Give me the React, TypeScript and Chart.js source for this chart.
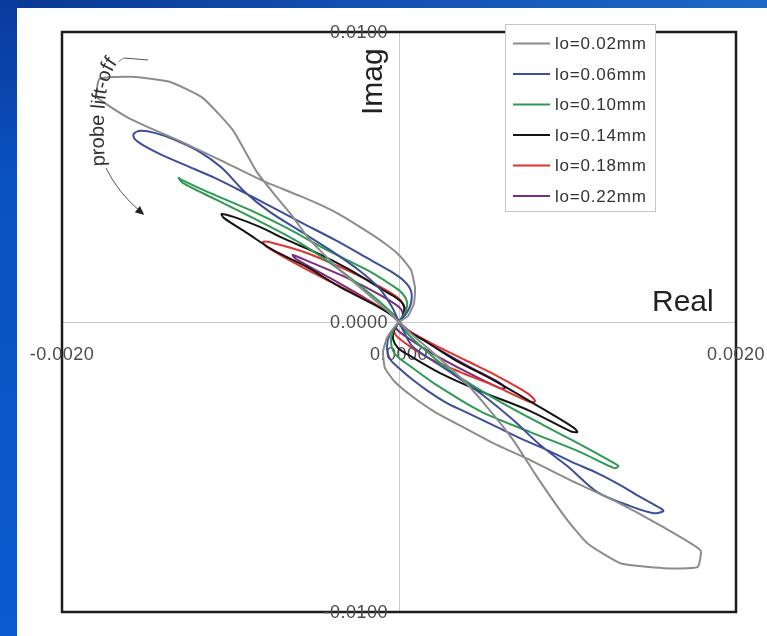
import React, { useEffect, useRef } from "react";
import { Chart, registerables } from "chart.js";

Chart.register(...registerables);

// ---------- data ----------
const seriesLabels = ["lo=0.02mm", "lo=0.06mm", "lo=0.10mm", "lo=0.14mm", "lo=0.18mm", "lo=0.22mm"];
const seriesColors = ["#8c8c8c", "#3d4f98", "#2e9a52", "#141414", "#e2322e", "#7a2d80"];

const lo002X = [0, 0.0000535, 0.0000892, 0.0000951, 0.0000713, 0.0000059, -0.0000713, -0.000232, -0.000392, -0.000588, -0.000808, -0.001064, -0.001302, -0.00148, -0.001617, -0.00173, -0.001795, -0.001777, -0.001587, -0.001361, -0.001165, -0.000987, -0.000844, -0.000737, -0.000648, -0.000529, -0.000351, -0.000172, -0.0000535, 0, 0.0000535, 0.000184, 0.00038, 0.000523, 0.000678, 0.00082, 0.000999, 0.001117, 0.001314, 0.001569, 0.001771, 0.001789, 0.001569, 0.001272, 0.001016, 0.000779, 0.000571, 0.00038, 0.000214, 0.0000832, -0.0000238, -0.0000832, -0.0000951, -0.0000713, -0.0000357, 0];
const lo002Y = [0, 0.000207, 0.000656, 0.001173, 0.001795, 0.002278, 0.002657, 0.003278, 0.003831, 0.004348, 0.004866, 0.005591, 0.006246, 0.006695, 0.007075, 0.007489, 0.007765, 0.008386, 0.008455, 0.008282, 0.00773, 0.006626, 0.005177, 0.004383, 0.003762, 0.00283, 0.001795, 0.000897, 0.000311, 0, -0.000311, -0.000966, -0.002002, -0.002933, -0.004072, -0.005349, -0.006833, -0.007627, -0.008317, -0.008489, -0.008455, -0.007868, -0.007075, -0.006143, -0.005453, -0.004762, -0.00421, -0.003624, -0.003106, -0.002588, -0.002071, -0.001587, -0.001035, -0.000552, -0.000242, 0];

const lo006X = [0, 0.0000416, 0.0000713, 0.0000713, 0.0000297, -0.0000535, -0.00019, -0.00038, -0.000588, -0.000767, -0.000915, -0.001094, -0.001272, -0.001421, -0.001522, -0.001569, -0.001575, -0.001534, -0.00145, -0.001331, -0.001183, -0.001052, -0.000915, -0.000767, -0.000588, -0.00041, -0.000232, -0.000113, -0.0000416, 0, 0.0000357, 0.0000832, 0.000285, 0.000481, 0.000678, 0.000838, 0.000999, 0.001177, 0.001373, 0.00151, 0.001569, 0.001551, 0.001433, 0.001302, 0.001177, 0.001028, 0.00088, 0.000731, 0.000583, 0.000422, 0.000285, 0.000172, 0.0000832, 0.0000059, -0.0000535, -0.0000713, -0.0000535, 0];
const lo006Y = [0, 0.000276, 0.000656, 0.00107, 0.001415, 0.00176, 0.002209, 0.00283, 0.003451, 0.004003, 0.004452, 0.004969, 0.005418, 0.005798, 0.006108, 0.006315, 0.006488, 0.006591, 0.006522, 0.006281, 0.005867, 0.005315, 0.004486, 0.003796, 0.00314, 0.002485, 0.00176, 0.001139, 0.000518, 0, -0.000414, -0.000863, -0.001656, -0.00245, -0.003382, -0.004245, -0.004969, -0.005867, -0.00635, -0.006591, -0.006522, -0.006419, -0.006039, -0.005591, -0.005211, -0.004831, -0.004417, -0.004038, -0.003624, -0.003175, -0.002795, -0.002381, -0.002002, -0.001622, -0.001277, -0.000863, -0.000414, 0];

const lo010X = [0, 0.0000357, 0.0000476, 0.0000119, -0.0000535, -0.00019, -0.000428, -0.000666, -0.000886, -0.001123, -0.00129, -0.001308, -0.001284, -0.001082, -0.000844, -0.000588, -0.000351, -0.000155, -0.0000357, 0, 0.0000357, 0.000155, 0.000315, 0.000583, 0.000856, 0.001094, 0.001266, 0.001302, 0.001278, 0.001076, 0.000779, 0.000481, 0.000214, 0.0000654, -0.0000238, -0.0000476, -0.0000357, 0];
const lo010Y = [0, 0.000311, 0.00069, 0.001035, 0.001311, 0.001795, 0.002485, 0.003244, 0.003865, 0.004452, 0.0049, 0.004969, 0.004797, 0.00421, 0.00352, 0.002726, 0.001795, 0.000897, 0.000276, 0, -0.000311, -0.000966, -0.001726, -0.002692, -0.003555, -0.004279, -0.004831, -0.004969, -0.005038, -0.004486, -0.003796, -0.003071, -0.00214, -0.001518, -0.001104, -0.00069, -0.000311, 0];

const lo014X = [0, 0.0000297, 0.0000238, -0.0000238, -0.0000951, -0.000291, -0.000487, -0.000666, -0.000826, -0.000981, -0.001052, -0.00104, -0.000903, -0.000749, -0.000547, -0.000351, -0.000155, -0.0000357, 0, 0.0000357, 0.000155, 0.000333, 0.000571, 0.000886, 0.00104, 0.001058, 0.001016, 0.000779, 0.000481, 0.000244, 0.0000773, -0.0000059, -0.0000357, -0.0000297, 0];
const lo014Y = [0, 0.000311, 0.000621, 0.000863, 0.001104, 0.001795, 0.002381, 0.00283, 0.003278, 0.003624, 0.003727, 0.003589, 0.003071, 0.002485, 0.001898, 0.001208, 0.000621, 0.000207, 0, -0.000242, -0.000656, -0.001311, -0.002036, -0.003106, -0.003658, -0.003796, -0.003762, -0.003071, -0.002381, -0.00176, -0.001208, -0.000897, -0.000587, -0.000311, 0];

const lo018X = [0, 0.0000297, 0.0000357, -0.0000119, -0.000155, -0.000351, -0.000547, -0.000749, -0.000808, -0.000785, -0.000588, -0.000392, -0.00019, -0.0000476, 0, 0.0000416, 0.00019, 0.000392, 0.000594, 0.000761, 0.000808, 0.000779, 0.000571, 0.000363, 0.000155, 0.0000119, -0.0000297, 0];
const lo018Y = [0, 0.000242, 0.000483, 0.000863, 0.001346, 0.001898, 0.002381, 0.002726, 0.002761, 0.002588, 0.001933, 0.001346, 0.000759, 0.000276, 0, -0.000242, -0.000725, -0.001311, -0.001898, -0.00245, -0.002726, -0.002761, -0.002209, -0.001726, -0.001173, -0.000621, -0.000311, 0];

const lo022X = [0, 0.0000238, 0.0000059, -0.000113, -0.000321, -0.000529, -0.00063, -0.000612, -0.00041, -0.000202, -0.0000535, 0, 0.0000535, 0.000202, 0.00041, 0.0006, 0.00063, 0.0006, 0.000392, 0.000184, 0.0000357, -0.0000178, 0];
const lo022Y = [0, 0.000207, 0.000483, 0.000932, 0.001553, 0.002071, 0.002312, 0.002174, 0.001518, 0.000828, 0.000276, 0, -0.000276, -0.000828, -0.001518, -0.002105, -0.002278, -0.002278, -0.001691, -0.001035, -0.000483, -0.000207, 0];

const xTickValues = [-0.002, 0, 0.002];
const xTickLabels = ["-0.0020", "0.0000", "0.0020"];
const yTickValues = [-0.01, 0, 0.01];
const yTickLabels = ["-0.0100", "0.0000", "0.0100"];
const xAxisTitle = "Real";
const yAxisTitle = "Imag";
const annotationText = "probe lift-off";

const seriesX = [lo002X, lo006X, lo010X, lo014X, lo018X, lo022X];
const seriesY = [lo002Y, lo006Y, lo010Y, lo014Y, lo018Y, lo022Y];

const FONT = '"Liberation Sans", Arial, Helvetica, sans-serif';

type P = [number, number];

function drawTextOnQuad(ctx: CanvasRenderingContext2D, text: string, p0: P, p1: P, p2: P, tail: P) {
  const N = 300;
  const pts: P[] = [];
  const lens: number[] = [0];
  for (let i = 0; i <= N; i++) {
    const t = i / N;
    const u = 1 - t;
    pts.push([
      u * u * p0[0] + 2 * u * t * p1[0] + t * t * p2[0],
      u * u * p0[1] + 2 * u * t * p1[1] + t * t * p2[1],
    ]);
    if (i > 0) lens.push(lens[i - 1] + Math.hypot(pts[i][0] - pts[i - 1][0], pts[i][1] - pts[i - 1][1]));
  }
  const at = (s: number) => {
    let i = 1;
    while (i < N && lens[i] < s) i++;
    const a = pts[i - 1];
    const b = pts[i];
    const seg = lens[i] - lens[i - 1] || 1;
    const f = Math.min(1, Math.max(0, (s - lens[i - 1]) / seg));
    return { x: a[0] + (b[0] - a[0]) * f, y: a[1] + (b[1] - a[1]) * f, ang: Math.atan2(b[1] - a[1], b[0] - a[0]), idx: i };
  };
  let s = 0;
  for (const ch of text) {
    const w = ctx.measureText(ch).width;
    const m = at(s + w / 2);
    ctx.save();
    ctx.translate(m.x, m.y);
    ctx.rotate(m.ang);
    ctx.textAlign = "center";
    ctx.textBaseline = "alphabetic";
    ctx.fillText(ch, 0, 0);
    ctx.restore();
    s += w;
  }
  const e = at(s + 1);
  ctx.beginPath();
  ctx.moveTo(e.x, e.y);
  for (let i = e.idx; i <= N; i++) ctx.lineTo(pts[i][0], pts[i][1]);
  ctx.lineTo(tail[0], tail[1]);
  ctx.stroke();
}

const decorPlugin = {
  id: "decor",
  beforeDatasetsDraw(chart: any) {
    const { ctx, chartArea: a, scales } = chart;
    const xs = scales.x;
    const ys = scales.y;
    ctx.save();
    ctx.strokeStyle = "#1c1c1c";
    ctx.lineWidth = 2.5;
    ctx.strokeRect(a.left, a.top, a.right - a.left, a.bottom - a.top);

    ctx.fillStyle = "#4a4a4a";
    ctx.font = `18px ${FONT}`;
    (ctx as any).letterSpacing = "0.5px";
    ctx.textAlign = "center";
    ctx.textBaseline = "middle";
    const y0 = ys.getPixelForValue(0);
    const x0 = xs.getPixelForValue(0);
    xTickValues.forEach((v, i) => ctx.fillText(xTickLabels[i], xs.getPixelForValue(v), y0 + 33));
    ctx.textAlign = "right";
    yTickValues.forEach((v, i) => ctx.fillText(yTickLabels[i], x0 - 11, ys.getPixelForValue(v) + 1));
    (ctx as any).letterSpacing = "0px";
    ctx.restore();
  },
  afterDatasetsDraw(chart: any) {
    const { ctx, chartArea: a, scales } = chart;
    const xs = scales.x;
    const ys = scales.y;
    const x0 = xs.getPixelForValue(0);
    const y0 = ys.getPixelForValue(0);
    ctx.save();

    // legend
    const lx = 505.5, ly = 24.5, lw = 150, lh = 187;
    ctx.fillStyle = "#ffffff";
    ctx.fillRect(lx, ly, lw, lh);
    ctx.strokeStyle = "#c6c6c6";
    ctx.lineWidth = 1;
    ctx.strokeRect(lx, ly, lw, lh);
    chart.data.datasets.forEach((ds: any, i: number) => {
      const cy = 43.5 + i * 30.5;
      ctx.strokeStyle = ds.borderColor;
      ctx.lineWidth = 2;
      ctx.beginPath();
      ctx.moveTo(513, cy);
      ctx.lineTo(550, cy);
      ctx.stroke();
      ctx.fillStyle = "#333333";
      ctx.font = `17px ${FONT}`;
      ctx.textAlign = "left";
      ctx.textBaseline = "middle";
      (ctx as any).letterSpacing = "0.8px";
      ctx.fillText(ds.label, 555, cy + 1);
      (ctx as any).letterSpacing = "0px";
    });

    // axis titles
    ctx.fillStyle = "#222222";
    ctx.font = `30px ${FONT}`;
    ctx.textAlign = "left";
    ctx.textBaseline = "alphabetic";
    ctx.fillText(xAxisTitle, a.right - 84, y0 - 11);
    ctx.save();
    ctx.translate(x0 - 17, a.top + 83);
    ctx.rotate(-Math.PI / 2);
    ctx.fillText(yAxisTitle, 0, 0);
    ctx.restore();

    // probe lift-off annotation
    ctx.fillStyle = "#333333";
    ctx.strokeStyle = "#555555";
    ctx.lineWidth = 1;
    ctx.font = `20px ${FONT}`;
    drawTextOnQuad(ctx, annotationText, [105, 166], [99, 70], [124, 58], [148, 60]);

    // arrow
    const s0: P = [106, 168], c0: P = [118, 193], e0: P = [142, 213];
    ctx.beginPath();
    ctx.moveTo(s0[0], s0[1]);
    ctx.quadraticCurveTo(c0[0], c0[1], e0[0], e0[1]);
    ctx.stroke();
    const ang = Math.atan2(e0[1] - c0[1], e0[0] - c0[0]);
    const tip: P = [e0[0] + 3 * Math.cos(ang), e0[1] + 3 * Math.sin(ang)];
    ctx.fillStyle = "#222222";
    ctx.beginPath();
    ctx.moveTo(tip[0], tip[1]);
    ctx.lineTo(tip[0] - 9 * Math.cos(ang) + 4 * Math.sin(ang), tip[1] - 9 * Math.sin(ang) - 4 * Math.cos(ang));
    ctx.lineTo(tip[0] - 9 * Math.cos(ang) - 4 * Math.sin(ang), tip[1] - 9 * Math.sin(ang) + 4 * Math.cos(ang));
    ctx.closePath();
    ctx.fill();

    ctx.restore();
  },
};

export default function App() {
  const canvasRef = useRef<HTMLCanvasElement | null>(null);

  useEffect(() => {
    if (!canvasRef.current) return;
    const datasets = seriesLabels.map((label, i) => ({
      label,
      data: seriesX[i].map((x, j) => ({ x, y: seriesY[i][j] })),
      borderColor: seriesColors[i],
      backgroundColor: seriesColors[i],
      borderWidth: 2,
      showLine: true,
      pointRadius: 0,
      fill: false,
      tension: i === 0 ? 0.15 : 0.3,
    }));
    const chart = new Chart(canvasRef.current, {
      type: "scatter",
      data: { datasets },
      options: {
        animation: false,
        responsive: false,
        devicePixelRatio: 1,
        layout: { padding: { left: 62, top: 32, right: 31, bottom: 24 } },
        plugins: { legend: { display: false }, tooltip: { enabled: false }, title: { display: false } },
        scales: {
          x: {
            type: "linear",
            min: -0.002,
            max: 0.002,
            position: { y: 0 } as any,
            afterBuildTicks: (s: any) => {
              s.ticks = xTickValues.map((v) => ({ value: v }));
            },
            ticks: { display: false },
            grid: { display: true, color: "rgba(0,0,0,0)", drawTicks: false },
            border: { display: true, color: "#cccccc", width: 1 },
          },
          y: {
            type: "linear",
            min: -0.01,
            max: 0.01,
            position: { x: 0 } as any,
            afterBuildTicks: (s: any) => {
              s.ticks = yTickValues.map((v) => ({ value: v }));
            },
            ticks: { display: false },
            grid: { display: true, color: "rgba(0,0,0,0)", drawTicks: false },
            border: { display: true, color: "#cccccc", width: 1 },
          },
        },
      } as any,
      plugins: [decorPlugin],
    });
    return () => chart.destroy();
  }, []);

  return (
    <div style={{ position: "fixed", left: 0, top: 0, width: 767, height: 636, overflow: "hidden", background: "#ffffff" }}>
      <div style={{ position: "absolute", left: 0, top: 0, width: 767, height: 8, background: "linear-gradient(90deg, #0a3794 0%, #114fb0 45%, #1e68c8 100%)" }} />
      <div style={{ position: "absolute", left: 0, top: 0, width: 17, height: 636, background: "linear-gradient(180deg, #0a3a9c 0%, #0a52c2 30%, #0b5ccf 100%)" }} />
      <canvas ref={canvasRef} width={767} height={636} style={{ position: "absolute", left: 0, top: 0, width: 767, height: 636 }} />
    </div>
  );
}
